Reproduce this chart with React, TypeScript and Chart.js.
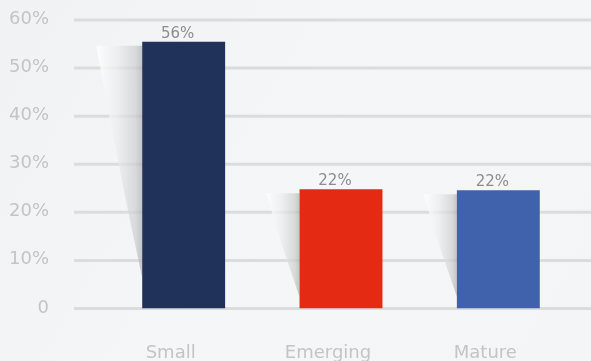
import React, { useEffect, useRef } from "react";
import { Chart, registerables } from "chart.js";

Chart.register(...registerables);

const categories = ["Small", "Emerging", "Mature"];
const values = [55.5, 24.8, 24.6];
const valueLabels = ["56%", "22%", "22%"];
const barColors = ["#203259", "#e52a14", "#4061ab"];
const yMin = 0;
const yMax = 60;
const yStep = 10;
const yTickLabel = (v: number) => (v === 0 ? "0" : `${v}%`);

const FONT = '"DejaVu Sans", "Open Sans", sans-serif';

const backgroundPlugin = {
  id: "bgPlugin",
  beforeDraw(chart: any) {
    const { ctx, width, height } = chart;
    ctx.save();
    const g = ctx.createLinearGradient(0, 0, width, height);
    g.addColorStop(0, "#f1f2f4");
    g.addColorStop(0.5, "#f5f6f7");
    g.addColorStop(1, "#f4f5f6");
    ctx.fillStyle = g;
    ctx.fillRect(0, 0, width, height);
    ctx.restore();
  },
};

const gridShadowPlugin = {
  id: "gridShadowPlugin",
  beforeDatasetsDraw(chart: any) {
    const { ctx, width } = chart;
    const y = chart.scales.y;
    const x = chart.scales.x;
    ctx.save();
    ctx.strokeStyle = "#dcdcdc";
    ctx.lineWidth = 3;
    ctx.font = `18px ${FONT}`;
    ctx.fillStyle = "#c4c4c4";
    y.ticks.forEach((t: any) => {
      const py = y.getPixelForValue(t.value);
      ctx.beginPath();
      ctx.moveTo(74, py);
      ctx.lineTo(width, py);
      ctx.stroke();
      ctx.textAlign = "right";
      ctx.textBaseline = "alphabetic";
      ctx.fillText(yTickLabel(t.value), 49, py + 4);
    });
    // category labels under the axis
    ctx.textAlign = "center";
    ctx.textBaseline = "alphabetic";
    categories.forEach((c, i) => {
      ctx.fillText(c, x.getPixelForValue(i) - 13, y.getPixelForValue(0) + 49.5);
    });
    const meta = chart.getDatasetMeta(0);
    meta.data.forEach((bar: any) => {
      const props = bar.getProps(["x", "y", "base", "width"], true);
      const left = props.x - props.width / 2;
      const h = props.base - props.y;
      const top = props.y + 4;
      const sh = 0.87 * h;
      const sw = 0.28 * props.width + 0.085 * h;
      const g = ctx.createLinearGradient(left - sw, 0, left, 0);
      g.addColorStop(0, "rgba(255,255,255,0.9)");
      g.addColorStop(0.45, "rgba(236,237,238,0.7)");
      g.addColorStop(0.85, "rgba(205,206,208,0.7)");
      g.addColorStop(1, "rgba(175,176,179,0.7)");
      ctx.fillStyle = g;
      ctx.beginPath();
      ctx.moveTo(left - sw, top);
      ctx.lineTo(left, top);
      ctx.lineTo(left, top + sh);
      ctx.quadraticCurveTo(left - sw * 0.55, top + sh / 2, left - sw, top);
      ctx.closePath();
      ctx.fill();
    });
    ctx.restore();
  },
  afterDatasetsDraw(chart: any) {
    const { ctx } = chart;
    const meta = chart.getDatasetMeta(0);
    ctx.save();
    ctx.font = `15px ${FONT}`;
    ctx.fillStyle = "#8c8c8c";
    ctx.textAlign = "center";
    ctx.textBaseline = "alphabetic";
    meta.data.forEach((bar: any, i: number) => {
      const props = bar.getProps(["x", "y"], true);
      ctx.fillText(valueLabels[i], props.x - 6, props.y - 4);
    });
    ctx.restore();
  },
};

export default function App() {
  const ref = useRef<HTMLCanvasElement | null>(null);
  useEffect(() => {
    if (!ref.current) return;
    const chart = new Chart(ref.current, {
      type: "bar",
      data: {
        labels: categories,
        datasets: [
          {
            data: values,
            backgroundColor: barColors,
            borderWidth: 0,
            categoryPercentage: 1,
            barPercentage: 0.527,
          },
        ],
      },
      options: {
        animation: false,
        responsive: false,
        devicePixelRatio: 1,
        layout: { padding: { top: 20, right: 14, left: 105, bottom: 52.5 } },
        plugins: { legend: { display: false }, tooltip: { enabled: false } },
        scales: {
          x: { display: false },
          y: {
            display: false,
            min: yMin,
            max: yMax,
            ticks: { stepSize: yStep },
          },
        },
      },
      plugins: [backgroundPlugin, gridShadowPlugin],
    } as any);
    return () => chart.destroy();
  }, []);
  return (
    <div style={{ position: "fixed", left: 0, top: 0, width: 591, height: 361 }}>
      <canvas ref={ref} width={591} height={361} style={{ display: "block" }} />
    </div>
  );
}
